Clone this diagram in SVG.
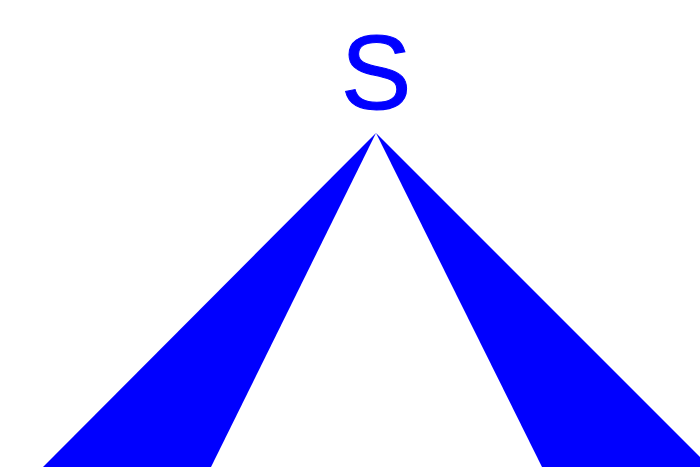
<svg xmlns="http://www.w3.org/2000/svg" width="700" height="467" viewBox="0 0 700 467">
<style>
.w{fill:#0000ff;stroke:none}
.t{font-family:"Liberation Sans",Arial,sans-serif;font-size:106px;fill:#0000ff;stroke:#0000ff;stroke-width:1;text-anchor:middle}
</style>
<rect width="700" height="467" fill="#ffffff"/>
<g id="label"><text class="t" x="376" y="109">S</text></g>
<g id="wedges">
<polygon class="w" points="376,133 43,467 211,467"/>
<polygon class="w" points="376,133 542,467 710,467"/>
</g>
</svg>
